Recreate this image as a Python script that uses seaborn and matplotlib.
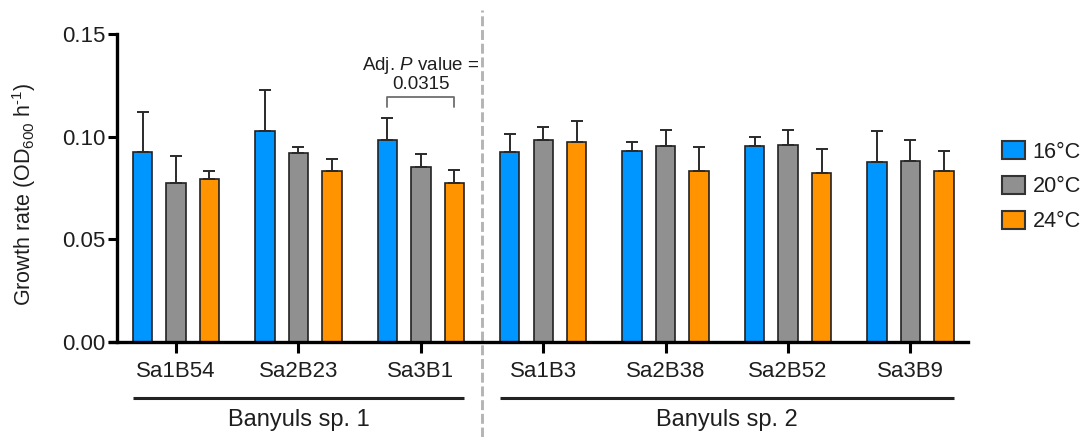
import matplotlib
matplotlib.use("Agg")
import matplotlib.pyplot as plt
import matplotlib.transforms as mtransforms
from matplotlib.patches import Patch
import seaborn as sns
import pandas as pd
import numpy as np

# strains, grouped by species
strains = ["Sa1B54", "Sa2B23", "Sa3B1", "Sa1B3", "Sa2B38", "Sa2B52", "Sa3B9"]
species = ["Banyuls sp. 1", "Banyuls sp. 1", "Banyuls sp. 1",
           "Banyuls sp. 2", "Banyuls sp. 2", "Banyuls sp. 2", "Banyuls sp. 2"]
temps = ["16°C", "20°C", "24°C"]

# mean growth rate per temperature (OD600 h-1)
rate_16 = [0.0925, 0.1026, 0.0982, 0.0925, 0.0932, 0.0955, 0.0875]
rate_20 = [0.0774, 0.0919, 0.0854, 0.0982, 0.0955, 0.0961, 0.0881]
rate_24 = [0.0796, 0.0831, 0.0774, 0.0976, 0.0831, 0.0825, 0.0831]

# upper error (SD)
sd_16 = [0.0194, 0.0203, 0.0109, 0.0086, 0.0044, 0.0043, 0.0151]
sd_20 = [0.0130, 0.0029, 0.0063, 0.0065, 0.0079, 0.0073, 0.0101]
sd_24 = [0.0035, 0.0059, 0.0066, 0.0102, 0.0117, 0.0115, 0.0101]

yticks = [0.00, 0.05, 0.10, 0.15]
pval_text = "0.0315"

colors = {"16°C": "#0096ff", "20°C": "#909090", "24°C": "#ff9300"}
ink = "#1e1e1e"

sns.set_style("ticks")
plt.rcParams["font.family"] = ["Liberation Sans", "DejaVu Sans"]
plt.rcParams["mathtext.fontset"] = "custom"
plt.rcParams["mathtext.rm"] = "Liberation Sans"
plt.rcParams["mathtext.it"] = "Liberation Sans:italic"
plt.rcParams["text.color"] = ink

df = pd.DataFrame({
    "strain": strains * 3,
    "temp": [t for t in temps for _ in strains],
    "rate": rate_16 + rate_20 + rate_24,
})
sds = [sd_16, sd_20, sd_24]

W, H = 1088, 437
fig = plt.figure(figsize=(W / 100, H / 100), dpi=100)
ax = fig.add_axes([110 / W, 1 - 342 / H, 858 / W, 308 / H])

sns.barplot(data=df, x="strain", y="rate", hue="temp", order=strains,
            hue_order=temps, palette=colors, saturation=1, width=0.82,
            gap=0.42, edgecolor="#222222", linewidth=1.2, errorbar=None,
            ax=ax, legend=False)
bars = list(ax.containers)

# upper-only error bars on top of each bar
for cont, sd in zip(bars, sds):
    xs = [p.get_x() + p.get_width() / 2 for p in cont.patches]
    ys = [p.get_height() for p in cont.patches]
    ax.errorbar(xs, ys, yerr=[np.zeros(len(sd)), sd], fmt="none",
                ecolor="#2a2a2a", elinewidth=1.4, capsize=4.3,
                capthick=1.4, zorder=1)

ax.set_xlim(-0.539, 6.47)
ax.set_ylim(0, 0.15)
ax.set_yticks(yticks)
ax.set_yticklabels([f"{v:.2f}" for v in yticks])
ax.set_xlabel("")
ax.set_ylabel(r"Growth rate (OD$_{600}$ h$^{\text{-}1}$)", fontsize=15.5,
              color=ink)
ax.yaxis.set_label_coords(-0.084, 0.48)

for side in ["top", "right"]:
    ax.spines[side].set_visible(False)
ax.spines["left"].set_position(("data", -0.482))
ax.spines["left"].set_linewidth(2.4)
ax.spines["bottom"].set_linewidth(2.4)
ax.spines["left"].set_color("black")
ax.spines["bottom"].set_color("black")
ax.tick_params(axis="x", length=8, width=2.2, pad=6, labelsize=16,
               colors="black", labelcolor=ink)
ax.tick_params(axis="y", length=6.5, width=2.2, pad=1.5, labelsize=16,
               colors="black", labelcolor=ink)

# divider between the two species
ax.axvline(2.5, ymin=-0.31, ymax=1.078, clip_on=False, color="#b4b4b4",
           lw=2.1, ls=(0, (3.4, 1.3)))

# species lines and labels under the ticks
trans = mtransforms.blended_transform_factory(ax.transData, ax.transAxes)
for sp in ["Banyuls sp. 1", "Banyuls sp. 2"]:
    idx = [i for i, s in enumerate(species) if s == sp]
    ps = [p for c in bars for i, p in enumerate(c.patches) if i in idx]
    x0 = min(p.get_x() for p in ps)
    x1 = max(p.get_x() + p.get_width() for p in ps)
    ax.plot([x0, x1], [-0.182, -0.182], transform=trans, clip_on=False,
            color="#222222", lw=2.2, solid_capstyle="butt")
    ax.text((x0 + x1) / 2, -0.253, sp, transform=trans, ha="center",
            va="center", fontsize=17, color=ink)

# significance bracket over Sa3B1
k = strains.index("Sa3B1")
b_left = bars[0].patches[k]
b_right = bars[2].patches[k]
bx0 = b_left.get_x() + b_left.get_width() / 2
bx1 = b_right.get_x() + b_right.get_width() / 2
ax.plot([bx0, bx0, bx1, bx1], [0.1144, 0.1193, 0.1193, 0.1144],
        color="#6e6e6e", lw=1.3, clip_on=False)
ax.text(k, 0.1347, r"Adj. $P$ value =", ha="center", va="center",
        fontsize=13.5, color=ink)
ax.text(k, 0.1254, pval_text, ha="center", va="center", fontsize=13.5,
        color=ink)

handles = [Patch(facecolor=colors[t], edgecolor="#333333", linewidth=1.5)
           for t in temps]
fig.legend(handles, temps, loc="center left",
           bbox_to_anchor=(1002 / W, 1 - 186.7 / H),
           bbox_transform=fig.transFigure, frameon=False, fontsize=15.6,
           handlelength=1.06, handleheight=0.88, handletextpad=0.35,
           labelspacing=0.62, borderpad=0, borderaxespad=0)

fig.savefig("out.png", dpi=100)
